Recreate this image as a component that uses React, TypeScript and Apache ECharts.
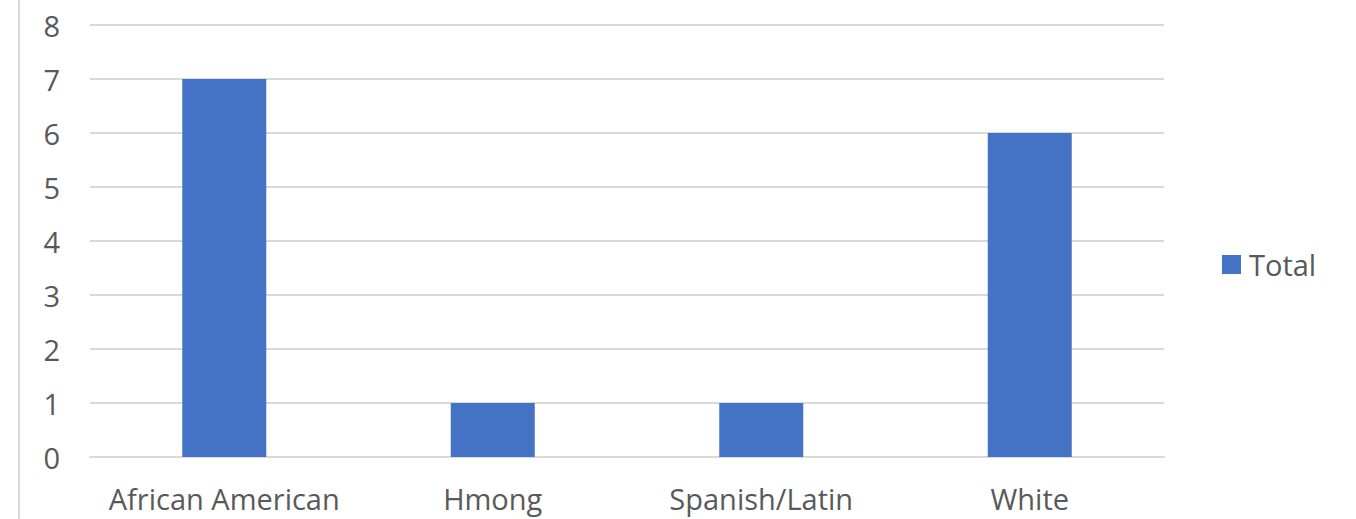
import React, { useEffect, useRef } from "react";
import * as echarts from "echarts";

const categories = ["African American", "Hmong", "Spanish/Latin", "White"];
const totals = [7, 1, 1, 6];
const seriesName = "Total";

export default function App() {
  const ref = useRef<HTMLDivElement>(null);
  useEffect(() => {
    const chart = echarts.init(ref.current!, undefined, { renderer: "svg" });
    const font = "'Open Sans', 'Noto Sans', sans-serif";
    chart.setOption({
      animation: false,
      backgroundColor: "#ffffff",
      textStyle: { fontFamily: font },
      grid: { left: 90, right: 192, top: 25, bottom: 62, containLabel: false },
      legend: {
        data: [seriesName],
        orient: "vertical",
        left: 1217,
        top: 245,
        itemWidth: 19,
        itemHeight: 19,
        itemGap: 8,
        icon: "rect",
        textStyle: { fontSize: 29, color: "#595959", fontFamily: font, padding: [0, 0, 0, 3] },
      },
      xAxis: {
        type: "category",
        data: categories,
        axisLine: { show: true, lineStyle: { color: "#d9d9d9", width: 2 } },
        axisTick: { show: false },
        axisLabel: { fontSize: 29, color: "#595959", margin: 27, interval: 0, fontFamily: font },
        splitLine: { show: false },
      },
      yAxis: {
        type: "value",
        min: 0,
        max: 8,
        interval: 1,
        axisLine: { show: false },
        axisTick: { show: false },
        axisLabel: { fontSize: 29, color: "#595959", margin: 30, fontFamily: font },
        splitLine: { lineStyle: { color: "#d9d9d9", width: 2 } },
      },
      series: [
        {
          name: seriesName,
          type: "bar",
          data: totals,
          barWidth: 84,
          itemStyle: { color: "#4472c4" },
        },
      ],
      graphic: [
        {
          type: "line",
          shape: { x1: 19, y1: 0, x2: 19, y2: 519 },
          style: { stroke: "#d9d9d9", lineWidth: 2 },
        },
      ],
    });
    return () => chart.dispose();
  }, []);
  return (
    <div
      ref={ref}
      style={{ position: "fixed", left: 0, top: 0, width: 1356, height: 519 }}
    />
  );
}
